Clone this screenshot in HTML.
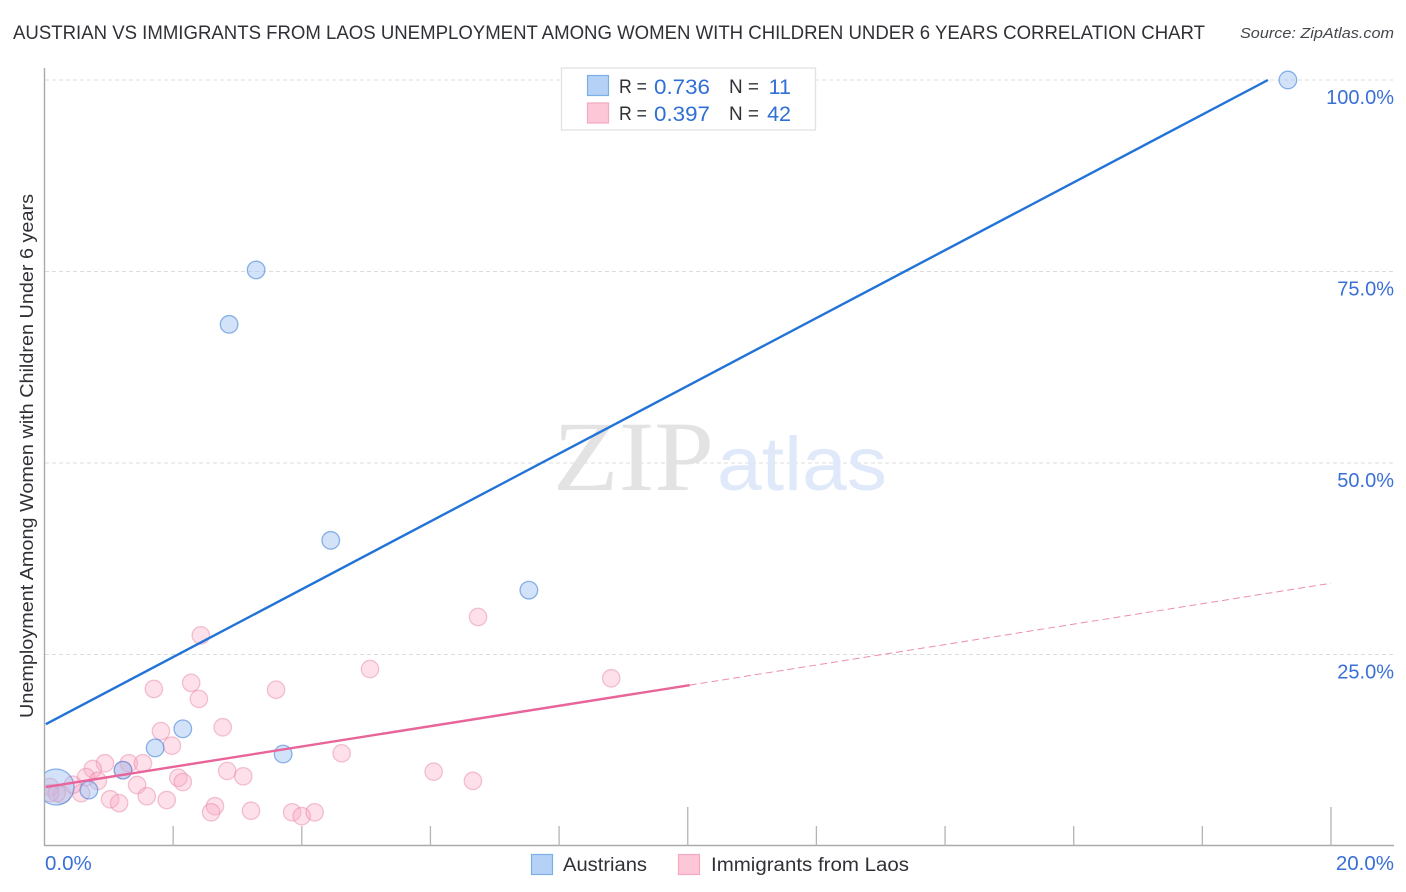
<!DOCTYPE html>
<html lang="en">
<head>
<meta charset="utf-8">
<title>Austrian vs Immigrants from Laos Unemployment Correlation Chart</title>
<style>
html,body{margin:0;padding:0;background:#fff;}
svg{display:block;font-family:"Liberation Sans",Arial,sans-serif;}
</style>
</head>
<body>
<svg id="chart" xmlns="http://www.w3.org/2000/svg" width="1406" height="892" viewBox="0 0 1406 892">
  <defs>
    <clipPath id="plot-clip"><rect x="45" y="60" width="1349" height="786"/></clipPath>
  </defs>
  <rect x="0" y="0" width="1406" height="892" fill="#ffffff"/>
  <g id="grid"></g>
  <g>
    <text x="553" y="490" font-family="'Liberation Serif',serif" font-size="100" fill="#e3e3e3" textLength="161" lengthAdjust="spacingAndGlyphs">ZIP</text>
    <text x="717" y="490" font-size="76" fill="#dfe9f9" textLength="170" lengthAdjust="spacingAndGlyphs">atlas</text>
  </g>
  <g id="axes"></g>
  <g id="pink-points" clip-path="url(#plot-clip)"></g>
  <g id="blue-points" clip-path="url(#plot-clip)"></g>
  <g id="trends"></g>
  <text x="13" y="39" font-size="19.5" fill="#2f3136" textLength="1192" lengthAdjust="spacingAndGlyphs">AUSTRIAN VS IMMIGRANTS FROM LAOS UNEMPLOYMENT AMONG WOMEN WITH CHILDREN UNDER 6 YEARS CORRELATION CHART</text>
  <text x="1394" y="38" text-anchor="end" font-size="15" font-style="italic" fill="#44474c" textLength="154" lengthAdjust="spacingAndGlyphs">Source: ZipAtlas.com</text>
  <text transform="translate(33,718) rotate(-90)" font-size="18" fill="#2f3136" textLength="524" lengthAdjust="spacingAndGlyphs">Unemployment Among Women with Children Under 6 years</text>
  <g id="tick-labels"></g>

  <g>
    <rect x="561.5" y="68" width="254" height="62" fill="#ffffff" stroke="#e2e2e2" stroke-width="1.3"/>
    <rect x="587.5" y="75.5" width="21" height="20" fill="#b5d2f6" stroke="#7eaee6" stroke-width="1.2"/>
    <rect x="587.5" y="103" width="21" height="20" fill="#fdc7d8" stroke="#f4a9c1" stroke-width="1.2"/>
    <text x="619" y="93" font-size="19" fill="#2f3136" textLength="28" lengthAdjust="spacingAndGlyphs">R =</text>
    <text x="654" y="94" font-size="21.5" fill="#2f6fd6" textLength="56" lengthAdjust="spacingAndGlyphs">0.736</text>
    <text x="729" y="93" font-size="19" fill="#2f3136" textLength="30" lengthAdjust="spacingAndGlyphs">N =</text>
    <text x="791" y="94" text-anchor="end" font-size="21.5" fill="#2f6fd6">11</text>
    <text x="619" y="120" font-size="19" fill="#2f3136" textLength="28" lengthAdjust="spacingAndGlyphs">R =</text>
    <text x="654" y="121" font-size="21.5" fill="#2f6fd6" textLength="56" lengthAdjust="spacingAndGlyphs">0.397</text>
    <text x="729" y="120" font-size="19" fill="#2f3136" textLength="30" lengthAdjust="spacingAndGlyphs">N =</text>
    <text x="791" y="121" text-anchor="end" font-size="21.5" fill="#2f6fd6">42</text>
  </g>

  <g>
    <rect x="531.5" y="854.5" width="21" height="20" fill="#b5d2f6" stroke="#7eaee6" stroke-width="1.2"/>
    <text x="563" y="871" font-size="19" fill="#2f3136" textLength="84" lengthAdjust="spacingAndGlyphs">Austrians</text>
    <rect x="678.5" y="854.5" width="21" height="20" fill="#fdc7d8" stroke="#f4a9c1" stroke-width="1.2"/>
    <text x="711" y="871" font-size="19" fill="#2f3136" textLength="198" lengthAdjust="spacingAndGlyphs">Immigrants from Laos</text>
  </g>
</svg>

<script>
const yTickValues = [25, 50, 75, 100];
const yTickLabels = ['25.0%', '50.0%', '75.0%', '100.0%'];
const xTickValues = [2, 4, 6, 8, 10, 12, 14, 16, 18, 20];
const xMajorTicks = [10, 20];
const xEdgeLabels = ['0.0%', '20.0%'];

const austriansX = [19.33, 3.29, 2.87, 4.45, 7.53, 2.15, 1.72, 3.71, 1.22, 0.69, 0.18];
const austriansY = [100, 75.2, 68.1, 39.9, 33.4, 15.3, 12.8, 12.0, 9.9, 7.3, 7.7];
const austriansWeight = [1, 1, 1, 1, 1, 1, 1, 1, 1, 1, 3];

const laosX = [1.70, 2.28, 2.40, 3.60, 1.81, 2.77, 1.98, 4.62, 1.31, 1.53, 0.94, 0.75, 0.645, 0.83, 1.22, 2.08, 2.15, 2.84, 3.09, 1.44, 1.59, 1.90, 1.02, 1.16, 2.65, 2.59, 3.21, 3.85, 4.00, 4.20, 0.57, 0.44, 0.27, 0.085, 0.085, 0.19, 6.05, 6.66, 8.81, 6.74, 5.06, 2.43];
const laosY = [20.5, 21.3, 19.2, 20.4, 15.0, 15.5, 13.1, 12.1, 10.8, 10.8, 10.8, 10.05, 9.0, 8.5, 9.9, 8.9, 8.35, 9.8, 9.1, 7.96, 6.5, 6.0, 6.1, 5.6, 5.2, 4.4, 4.6, 4.4, 3.9, 4.4, 6.9, 8.0, 6.7, 7.7, 6.9, 6.9, 9.7, 8.5, 21.9, 29.9, 23.1, 27.5];

const austriansTrendX = [0.02, 19.02];
const austriansTrendY = [15.9, 100];
const laosTrendX = [0.02, 10.03];
const laosTrendY = [7.7, 21.0];
const laosForecastX = [10.03, 20];
const laosForecastY = [21.0, 34.3];

const NS = 'http://www.w3.org/2000/svg';
const plotLeft = 44.5, plotRight = 1331, plotBottom = 846, plotTop = 80;
function xScale(v) { return plotLeft + v / 20 * (plotRight - plotLeft); }
function yScale(v) { return plotBottom - v / 100 * (plotBottom - plotTop); }
function make(tag, parentId, attrs) {
  const el = document.createElementNS(NS, tag);
  for (const k in attrs) el.setAttribute(k, attrs[k]);
  document.getElementById(parentId).appendChild(el);
  return el;
}

yTickValues.forEach(function (v, i) {
  const line = make('line', 'grid', {x1: 45, x2: 1394, y1: yScale(v), y2: yScale(v), stroke: '#dcdcdc', 'stroke-width': 1, 'stroke-dasharray': '4 3'});
  
  
  const label = make('text', 'tick-labels', {x: 1394, y: yScale(v) + 24, 'text-anchor': 'end', 'font-size': 20, fill: '#3a70d6'});
  label.textContent = yTickLabels[i];
  
  
});

const yAxis = make('line', 'axes', {x1: 44.5, x2: 44.5, y1: 68, y2: 846, stroke: '#aaaaaa', 'stroke-width': 1.4});


const xAxis = make('line', 'axes', {x1: 44, x2: 1394, y1: 845.5, y2: 845.5, stroke: '#aaaaaa', 'stroke-width': 1.4});



xTickValues.forEach(function (v) {
  const top = xMajorTicks.indexOf(v) >= 0 ? 807 : 826;
  const tick = make('line', 'axes', {x1: xScale(v), x2: xScale(v), y1: top, y2: 846, stroke: '#b4b4b4', 'stroke-width': 1.3});
  
  
});

const xLabel0 = make('text', 'tick-labels', {x: 45, y: 870, 'font-size': 20.5, fill: '#3a70d6'});
xLabel0.textContent = xEdgeLabels[0];


const xLabel20 = make('text', 'tick-labels', {x: 1394, y: 870, 'text-anchor': 'end', 'font-size': 20.5, fill: '#3a70d6'});
xLabel20.textContent = xEdgeLabels[1];



laosX.forEach(function (v, i) {
  const dot = make('circle', 'pink-points', {cx: xScale(v), cy: yScale(laosY[i]), r: 8.7, fill: '#f9a8c4', 'fill-opacity': 0.36, stroke: '#e88aa9', 'stroke-opacity': 0.5, 'stroke-width': 1.3});
  
  
});

austriansX.forEach(function (v, i) {
  const dot = make('circle', 'blue-points', {cx: xScale(v), cy: yScale(austriansY[i]), r: austriansWeight[i] > 1 ? 18 : 8.8, fill: '#9cc2f2', 'fill-opacity': 0.45, stroke: '#3f7fd8', 'stroke-opacity': 0.58, 'stroke-width': 1.3});
  
  
});

const blueTrend = make('line', 'trends', {x1: xScale(austriansTrendX[0]), y1: yScale(austriansTrendY[0]), x2: xScale(austriansTrendX[1]), y2: yScale(austriansTrendY[1]), stroke: '#2273d8', 'stroke-width': 2.4});


const pinkTrend = make('line', 'trends', {x1: xScale(laosTrendX[0]), y1: yScale(laosTrendY[0]), x2: xScale(laosTrendX[1]), y2: yScale(laosTrendY[1]), stroke: '#e8649a', 'stroke-width': 2.4});


const pinkForecast = make('line', 'trends', {x1: xScale(laosForecastX[0]), y1: yScale(laosForecastY[0]), x2: xScale(laosForecastX[1]), y2: yScale(laosForecastY[1]), stroke: '#eb8fb0', 'stroke-width': 1, 'stroke-dasharray': '7 4'});


</script>
</body>
</html>
